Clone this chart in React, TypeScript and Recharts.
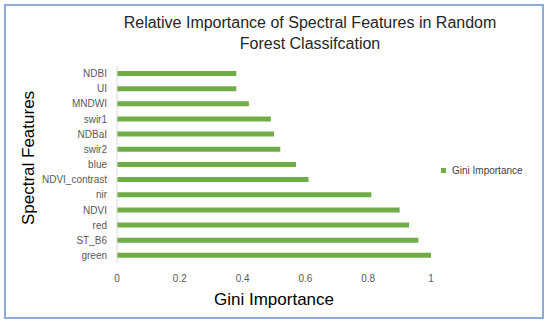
import { BarChart, Bar, XAxis, YAxis, Label } from "recharts";

const features = [
  "NDBI",
  "UI",
  "MNDWI",
  "swir1",
  "NDBaI",
  "swir2",
  "blue",
  "NDVI_contrast",
  "nir",
  "NDVI",
  "red",
  "ST_B6",
  "green",
];
const giniImportance = [0.38, 0.38, 0.42, 0.49, 0.5, 0.52, 0.57, 0.61, 0.81, 0.9, 0.93, 0.96, 1.0];
const xTicks = [0, 0.2, 0.4, 0.6, 0.8, 1];

const data = features.map((f, i) => ({ feature: f, gini: giniImportance[i] }));

const GREEN = "#70ad47";
const SANS = "'Liberation Sans', Arial, sans-serif";

export default function App() {
  return (
    <div style={{ position: "absolute", left: 0, top: 0, width: 550, height: 325, background: "#fff" }}>
      <div
        style={{
          position: "absolute",
          left: 4,
          top: 4,
          width: 540,
          height: 315,
          border: "2px solid #8eaad6",
          boxSizing: "border-box",
        }}
      />
      <div
        style={{
          position: "absolute",
          left: 60,
          top: 12,
          width: 500,
          textAlign: "center",
          fontFamily: SANS,
          fontSize: 16,
          lineHeight: "21px",
          color: "#262626",
        }}
      >
        Relative Importance of Spectral Features in Random
        <br />
        Forest Classifcation
      </div>
      {/* legend sits beside the plot, like the Excel original */}
      <div
        style={{
          position: "absolute",
          left: 441,
          top: 165,
          display: "flex",
          alignItems: "center",
          fontFamily: SANS,
          fontSize: 10,
          color: "#404040",
        }}
      >
        <span style={{ width: 5, height: 5, background: GREEN, marginRight: 6, display: "inline-block" }} />
        Gini Importance
      </div>
      <div style={{ position: "absolute", left: 0, top: 0 }}>
        <BarChart
          width={550}
          height={325}
          data={data}
          layout="vertical"
          margin={{ top: 66, right: 119, bottom: 0, left: 0 }}
        >
          <XAxis
            type="number"
            domain={[0, 1]}
            ticks={xTicks}
            axisLine={false}
            tickLine={false}
            height={62}
            tick={{ fill: "#595959", fontSize: 10, fontFamily: SANS }}
            tickMargin={6}
          >
            <Label
              value="Gini Importance"
              position="insideBottom"
              offset={20}
              style={{ fontSize: 17, fontFamily: SANS, fill: "#000" }}
            />
          </XAxis>
          <YAxis
            type="category"
            dataKey="feature"
            width={117}
            axisLine={{ stroke: "#d9d9d9" }}
            tickLine={false}
            tickMargin={4}
            interval={0}
            tick={{ fill: "#595959", fontSize: 10, fontFamily: SANS }}
          >
            <Label
              content={() => (
                <text
                  x={28}
                  y={158}
                  transform="rotate(-90 28 158)"
                  textAnchor="middle"
                  dominantBaseline="central"
                  style={{ fontSize: 17, fontFamily: SANS, fill: "#000" }}
                >
                  Spectral Features
                </text>
              )}
            />
          </YAxis>
          <Bar dataKey="gini" name="Gini Importance" fill={GREEN} barSize={5} isAnimationActive={false} />
        </BarChart>
      </div>
    </div>
  );
}
